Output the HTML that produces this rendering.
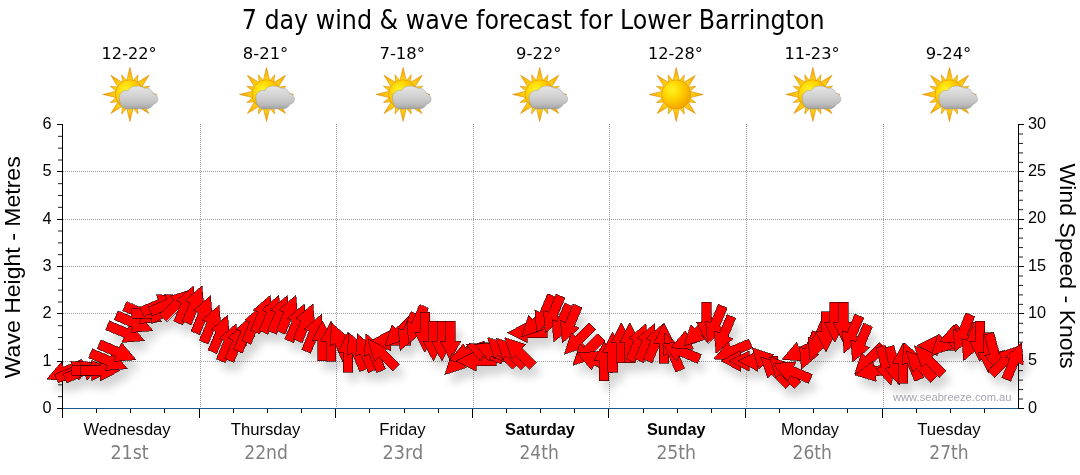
<!DOCTYPE html>
<html><head><meta charset="utf-8"><title>7 day wind &amp; wave forecast for Lower Barrington</title>
<style>
html,body{margin:0;padding:0;background:#fff;}
body{width:1080px;height:475px;overflow:hidden;}
svg{display:block;}
.tah{font-family:"DejaVu Sans Condensed","DejaVu Sans",sans-serif;font-stretch:condensed;}
.ari{font-family:"Liberation Sans",sans-serif;}
</style></head><body>
<svg width="1080" height="475" viewBox="0 0 1080 475">
<defs>
<radialGradient id="sunG" cx="0.36" cy="0.34" r="0.75">
<stop offset="0" stop-color="#fff325"/><stop offset="0.4" stop-color="#ffd500"/><stop offset="1" stop-color="#f39a00"/>
</radialGradient>
<radialGradient id="rayG" gradientUnits="userSpaceOnUse" cx="0" cy="0" r="27">
<stop offset="0.5" stop-color="#ffd81e"/><stop offset="0.8" stop-color="#fbb40a"/><stop offset="1" stop-color="#f29600"/>
</radialGradient>
<linearGradient id="cloudG" x1="0" y1="0" x2="0" y2="1">
<stop offset="0" stop-color="#e6e6e6"/><stop offset="0.5" stop-color="#cfcfcf"/><stop offset="0.8" stop-color="#bcbcbc"/><stop offset="1" stop-color="#a0a0a0"/>
</linearGradient>
<filter id="sh" x="-5%" y="-20%" width="110%" height="150%">
<feGaussianBlur in="SourceAlpha" stdDeviation="4.5"/>
<feOffset dx="5" dy="9" result="b"/>
<feComponentTransfer><feFuncA type="linear" slope="0.17"/></feComponentTransfer>
<feMerge><feMergeNode/><feMergeNode in="SourceGraphic"/></feMerge>
</filter>
<clipPath id="clipA"><rect x="0" y="100" width="1023.5" height="330"/></clipPath>

<g id="sun">
<path d="M3.30,-13.50 L0.00,-27.00 L-3.30,-13.50 Z M7.38,-11.55 L8.15,-19.68 L2.95,-13.39 Z M11.88,-7.21 L19.09,-19.09 L7.21,-11.88 Z M13.39,-2.95 L19.68,-8.15 L11.55,-7.38 Z M13.50,3.30 L27.00,-0.00 L13.50,-3.30 Z M11.55,7.38 L19.68,8.15 L13.39,2.95 Z M7.21,11.88 L19.09,19.09 L11.88,7.21 Z M2.95,13.39 L8.15,19.68 L7.38,11.55 Z M-3.30,13.50 L0.00,27.00 L3.30,13.50 Z M-7.38,11.55 L-8.15,19.68 L-2.95,13.39 Z M-11.88,7.21 L-19.09,19.09 L-7.21,11.88 Z M-13.39,2.95 L-19.68,8.15 L-11.55,7.38 Z M-13.50,-3.30 L-27.00,0.00 L-13.50,3.30 Z M-11.55,-7.38 L-19.68,-8.15 L-13.39,-2.95 Z M-7.21,-11.88 L-19.09,-19.09 L-11.88,-7.21 Z M-2.95,-13.39 L-8.15,-19.68 L-7.38,-11.55 Z" fill="url(#rayG)" stroke="#d98c00" stroke-width="0.55" stroke-linejoin="round"/>
<circle cx="0" cy="0" r="14.6" fill="url(#sunG)" stroke="#e39600" stroke-width="0.6"/>
</g>
<g id="cloud">
<path d="M-2.7,14.5 C-5,14.5 -6.5,13.8 -7.6,12.2 C-9.5,10.5 -10.6,7 -10.7,3.3 C-10.7,0.5 -9.8,-1.2 -8.0,-2.2 C-6.5,-3.8 -3.8,-4.4 -1.6,-3.9 C-0.8,-5.4 0.2,-6.4 1.1,-6.9 C2.2,-7.7 3.5,-8.1 4.8,-8.2 C7,-8.5 9,-8.4 10.9,-7.9 C12.4,-7.5 13.7,-6.9 14.7,-6.2 C16,-6.4 17.4,-6.2 18.5,-5.8 C19.8,-5.4 20.9,-4.7 21.5,-3.9 C22.3,-3.1 22.8,-2.1 23.0,-1.2 C24.6,-0.9 26,0.1 26.8,1.4 C27.6,2.4 28.0,3.6 28.0,4.8 C28.0,6 27.6,7.1 26.8,7.9 C26,8.9 24.8,9.6 23.4,9.8 C23.2,10.8 22.5,11.8 21.5,12.4 C20.5,13.5 19.2,14.2 17.7,14.4 L-2.7,14.5 Z" fill="url(#cloudG)" stroke="#8e8e8e" stroke-opacity="0.75" stroke-width="0.55"/>
</g>
</defs>
<rect x="0" y="0" width="1080" height="475" fill="#ffffff"/>

<text class="tah" x="533.15" y="29" font-size="26.5" text-anchor="middle" textLength="582.9" lengthAdjust="spacingAndGlyphs" fill="#000">7 day wind &amp; wave forecast for Lower Barrington</text>
<text class="tah" x="129.1" y="58.6" font-size="16.4" text-anchor="middle" textLength="55.0" lengthAdjust="spacingAndGlyphs" fill="#000">12-22°</text>
<use href="#sun" x="129.9" y="94.4"/><use href="#cloud" x="129.9" y="94.4"/>
<text class="tah" x="265.6" y="58.6" font-size="16.4" text-anchor="middle" textLength="45.5" lengthAdjust="spacingAndGlyphs" fill="#000">8-21°</text>
<use href="#sun" x="266.5" y="94.4"/><use href="#cloud" x="266.5" y="94.4"/>
<text class="tah" x="402.2" y="58.6" font-size="16.4" text-anchor="middle" textLength="45.5" lengthAdjust="spacingAndGlyphs" fill="#000">7-18°</text>
<use href="#sun" x="403.1" y="94.4"/><use href="#cloud" x="403.1" y="94.4"/>
<text class="tah" x="538.8" y="58.6" font-size="16.4" text-anchor="middle" textLength="45.5" lengthAdjust="spacingAndGlyphs" fill="#000">9-22°</text>
<use href="#sun" x="539.7" y="94.4"/><use href="#cloud" x="539.7" y="94.4"/>
<text class="tah" x="675.4" y="58.6" font-size="16.4" text-anchor="middle" textLength="55.0" lengthAdjust="spacingAndGlyphs" fill="#000">12-28°</text>
<use href="#sun" x="676.2" y="94.5"/>
<text class="tah" x="812.0" y="58.6" font-size="16.4" text-anchor="middle" textLength="55.0" lengthAdjust="spacingAndGlyphs" fill="#000">11-23°</text>
<use href="#sun" x="812.9" y="94.4"/><use href="#cloud" x="812.9" y="94.4"/>
<text class="tah" x="948.6" y="58.6" font-size="16.4" text-anchor="middle" textLength="45.5" lengthAdjust="spacingAndGlyphs" fill="#000">9-24°</text>
<use href="#sun" x="949.5" y="94.4"/><use href="#cloud" x="949.5" y="94.4"/>
<g stroke="#9b9b9b" stroke-width="1" stroke-dasharray="1 1" shape-rendering="crispEdges"><line x1="63" y1="361.2" x2="1018.5" y2="361.2"/><line x1="63" y1="313.8" x2="1018.5" y2="313.8"/><line x1="63" y1="266.5" x2="1018.5" y2="266.5"/><line x1="63" y1="219.2" x2="1018.5" y2="219.2"/><line x1="63" y1="171.8" x2="1018.5" y2="171.8"/><line x1="200.5" y1="124" x2="200.5" y2="408"/><line x1="336.5" y1="124" x2="336.5" y2="408"/><line x1="473.5" y1="124" x2="473.5" y2="408"/><line x1="609.5" y1="124" x2="609.5" y2="408"/><line x1="746.5" y1="124" x2="746.5" y2="408"/><line x1="883.5" y1="124" x2="883.5" y2="408"/></g>
<g shape-rendering="crispEdges"><rect x="62" y="124" width="1" height="294" fill="#000"/><rect x="1018" y="124" width="1" height="285" fill="#000"/><rect x="63" y="408" width="955" height="1" fill="#17588a"/><rect x="57" y="408.00" width="5" height="1" fill="#000"/><rect x="57" y="360.67" width="5" height="1" fill="#000"/><rect x="57" y="313.33" width="5" height="1" fill="#000"/><rect x="57" y="266.00" width="5" height="1" fill="#000"/><rect x="57" y="218.67" width="5" height="1" fill="#000"/><rect x="57" y="171.33" width="5" height="1" fill="#000"/><rect x="57" y="124.00" width="5" height="1" fill="#000"/><rect x="1019" y="408.00" width="5" height="1" fill="#000"/><rect x="1019" y="360.67" width="5" height="1" fill="#000"/><rect x="1019" y="313.33" width="5" height="1" fill="#000"/><rect x="1019" y="266.00" width="5" height="1" fill="#000"/><rect x="1019" y="218.67" width="5" height="1" fill="#000"/><rect x="1019" y="171.33" width="5" height="1" fill="#000"/><rect x="1019" y="124.00" width="5" height="1" fill="#000"/><rect x="96.00" y="409" width="1" height="4" fill="#000"/><rect x="130.00" y="409" width="1" height="4" fill="#000"/><rect x="164.00" y="409" width="1" height="4" fill="#000"/><rect x="199.00" y="409" width="1" height="9" fill="#000"/><rect x="233.00" y="409" width="1" height="4" fill="#000"/><rect x="267.00" y="409" width="1" height="4" fill="#000"/><rect x="301.00" y="409" width="1" height="4" fill="#000"/><rect x="335.00" y="409" width="1" height="9" fill="#000"/><rect x="369.00" y="409" width="1" height="4" fill="#000"/><rect x="404.00" y="409" width="1" height="4" fill="#000"/><rect x="438.00" y="409" width="1" height="4" fill="#000"/><rect x="472.00" y="409" width="1" height="9" fill="#000"/><rect x="506.00" y="409" width="1" height="4" fill="#000"/><rect x="540.00" y="409" width="1" height="4" fill="#000"/><rect x="574.00" y="409" width="1" height="4" fill="#000"/><rect x="608.00" y="409" width="1" height="9" fill="#000"/><rect x="643.00" y="409" width="1" height="4" fill="#000"/><rect x="677.00" y="409" width="1" height="4" fill="#000"/><rect x="711.00" y="409" width="1" height="4" fill="#000"/><rect x="745.00" y="409" width="1" height="9" fill="#000"/><rect x="779.00" y="409" width="1" height="4" fill="#000"/><rect x="813.00" y="409" width="1" height="4" fill="#000"/><rect x="847.00" y="409" width="1" height="4" fill="#000"/><rect x="882.00" y="409" width="1" height="9" fill="#000"/><rect x="916.00" y="409" width="1" height="4" fill="#000"/><rect x="950.00" y="409" width="1" height="4" fill="#000"/><rect x="984.00" y="409" width="1" height="4" fill="#000"/></g>
<g stroke="#222" stroke-width="1"><line x1="58" y1="396.67" x2="62" y2="396.67"/><line x1="58" y1="384.83" x2="62" y2="384.83"/><line x1="58" y1="373.00" x2="62" y2="373.00"/><line x1="58" y1="349.33" x2="62" y2="349.33"/><line x1="58" y1="337.50" x2="62" y2="337.50"/><line x1="58" y1="325.67" x2="62" y2="325.67"/><line x1="58" y1="302.00" x2="62" y2="302.00"/><line x1="58" y1="290.17" x2="62" y2="290.17"/><line x1="58" y1="278.33" x2="62" y2="278.33"/><line x1="58" y1="254.67" x2="62" y2="254.67"/><line x1="58" y1="242.83" x2="62" y2="242.83"/><line x1="58" y1="231.00" x2="62" y2="231.00"/><line x1="58" y1="207.33" x2="62" y2="207.33"/><line x1="58" y1="195.50" x2="62" y2="195.50"/><line x1="58" y1="183.67" x2="62" y2="183.67"/><line x1="58" y1="160.00" x2="62" y2="160.00"/><line x1="58" y1="148.17" x2="62" y2="148.17"/><line x1="58" y1="136.33" x2="62" y2="136.33"/><line x1="1019" y1="399.03" x2="1023" y2="399.03"/><line x1="1019" y1="389.57" x2="1023" y2="389.57"/><line x1="1019" y1="380.10" x2="1023" y2="380.10"/><line x1="1019" y1="370.63" x2="1023" y2="370.63"/><line x1="1019" y1="351.70" x2="1023" y2="351.70"/><line x1="1019" y1="342.23" x2="1023" y2="342.23"/><line x1="1019" y1="332.77" x2="1023" y2="332.77"/><line x1="1019" y1="323.30" x2="1023" y2="323.30"/><line x1="1019" y1="304.37" x2="1023" y2="304.37"/><line x1="1019" y1="294.90" x2="1023" y2="294.90"/><line x1="1019" y1="285.43" x2="1023" y2="285.43"/><line x1="1019" y1="275.97" x2="1023" y2="275.97"/><line x1="1019" y1="257.03" x2="1023" y2="257.03"/><line x1="1019" y1="247.57" x2="1023" y2="247.57"/><line x1="1019" y1="238.10" x2="1023" y2="238.10"/><line x1="1019" y1="228.63" x2="1023" y2="228.63"/><line x1="1019" y1="209.70" x2="1023" y2="209.70"/><line x1="1019" y1="200.23" x2="1023" y2="200.23"/><line x1="1019" y1="190.77" x2="1023" y2="190.77"/><line x1="1019" y1="181.30" x2="1023" y2="181.30"/><line x1="1019" y1="162.37" x2="1023" y2="162.37"/><line x1="1019" y1="152.90" x2="1023" y2="152.90"/><line x1="1019" y1="143.43" x2="1023" y2="143.43"/><line x1="1019" y1="133.97" x2="1023" y2="133.97"/></g>
<g filter="url(#sh)"><g clip-path="url(#clipA)" fill="#ff0000" stroke="#1c0000" stroke-width="0.6" stroke-linejoin="miter" shape-rendering="crispEdges"><polygon points="46.8,379.2 61.4,362.1 63.4,367.1 81.9,359.4 85.6,368.3 67.1,375.9 69.2,380.9"/>
<polygon points="93.3,363.1 78.7,380.2 76.6,375.2 58.2,382.9 54.5,374.0 73.0,366.4 70.9,361.4"/>
<polygon points="101.8,363.1 87.2,380.2 85.2,375.2 66.7,382.9 63.0,374.0 81.5,366.4 79.4,361.4"/>
<polygon points="111.9,370.5 91.9,380.7 91.9,375.3 71.9,375.3 71.9,365.7 91.9,365.7 91.9,360.3"/>
<polygon points="120.4,370.5 100.4,380.7 100.4,375.3 80.4,375.3 80.4,365.7 100.4,365.7 100.4,360.3"/>
<polygon points="127.4,368.7 105.1,370.4 107.1,365.4 88.6,357.8 92.3,348.9 110.8,356.6 112.9,351.6"/>
<polygon points="136.0,359.7 113.6,361.4 115.7,356.4 97.2,348.8 100.9,339.9 119.3,347.6 121.4,342.6"/>
<polygon points="144.5,340.7 122.1,342.4 124.2,337.4 105.7,329.8 109.4,320.9 127.9,328.6 129.9,323.6"/>
<polygon points="153.0,330.7 130.7,332.4 132.7,327.4 114.3,319.8 117.9,310.9 136.4,318.6 138.5,313.6"/>
<polygon points="161.6,321.7 139.2,323.4 141.3,318.4 122.8,310.8 126.5,301.9 144.9,309.6 147.0,304.6"/>
<polygon points="171.6,313.4 151.6,323.6 151.6,318.2 131.6,318.2 131.6,308.6 151.6,308.6 151.6,303.2"/>
<polygon points="178.7,296.3 164.1,313.4 162.0,308.4 143.5,316.1 139.9,307.2 158.3,299.6 156.3,294.6"/>
<polygon points="187.2,296.1 172.6,313.2 170.6,308.2 152.1,315.9 148.4,307.0 166.9,299.4 164.8,294.4"/>
<polygon points="191.4,289.5 184.5,310.8 180.7,307.0 166.5,321.1 159.7,314.3 173.9,300.2 170.0,296.4"/>
<polygon points="193.4,286.0 195.2,308.4 190.2,306.3 182.6,324.8 173.7,321.1 181.4,302.7 176.4,300.6"/>
<polygon points="202.0,286.0 203.8,308.4 198.8,306.3 191.1,324.8 182.2,321.1 189.9,302.7 184.9,300.6"/>
<polygon points="210.5,295.8 212.3,318.2 207.3,316.1 199.6,334.6 190.8,330.9 198.4,312.5 193.4,310.4"/>
<polygon points="219.1,305.3 220.8,327.7 215.8,325.6 208.2,344.1 199.3,340.4 207.0,322.0 202.0,319.9"/>
<polygon points="227.6,314.8 229.4,337.2 224.4,335.1 216.7,353.6 207.9,349.9 215.5,331.5 210.5,329.4"/>
<polygon points="236.1,323.9 237.9,346.3 232.9,344.2 225.3,362.7 216.4,359.0 224.0,340.6 219.1,338.5"/>
<polygon points="244.7,323.5 246.4,345.9 241.5,343.8 233.8,362.3 224.9,358.6 232.6,340.2 227.6,338.1"/>
<polygon points="253.2,314.5 255.0,336.9 250.0,334.8 242.3,353.3 233.5,349.6 241.1,331.2 236.1,329.1"/>
<polygon points="261.7,305.5 263.5,327.9 258.5,325.8 250.9,344.3 242.0,340.6 249.7,322.2 244.7,320.1"/>
<polygon points="270.3,295.4 272.1,317.8 267.1,315.7 259.4,334.2 250.5,330.5 258.2,312.1 253.2,310.0"/>
<polygon points="278.8,295.4 280.6,317.8 275.6,315.7 267.9,334.2 259.1,330.5 266.7,312.1 261.7,310.0"/>
<polygon points="287.4,295.4 289.1,317.8 284.1,315.7 276.5,334.2 267.6,330.5 275.3,312.1 270.3,310.0"/>
<polygon points="295.9,295.4 297.7,317.8 292.7,315.7 285.0,334.2 276.2,330.5 283.8,312.1 278.8,310.0"/>
<polygon points="304.4,303.9 306.2,326.3 301.2,324.2 293.6,342.7 284.7,339.0 292.3,320.6 287.4,318.5"/>
<polygon points="313.0,303.9 314.7,326.3 309.8,324.2 302.1,342.7 293.2,339.0 300.9,320.6 295.9,318.5"/>
<polygon points="321.5,314.4 323.3,336.8 318.3,334.7 310.6,353.2 301.8,349.5 309.4,331.1 304.4,329.0"/>
<polygon points="322.4,320.8 332.6,340.8 327.2,340.8 327.2,360.8 317.6,360.8 317.6,340.8 312.2,340.8"/>
<polygon points="330.9,321.0 341.1,341.0 335.7,341.0 335.7,361.0 326.1,361.0 326.1,341.0 320.7,341.0"/>
<polygon points="331.8,323.3 348.9,337.9 343.9,340.0 351.6,358.4 342.7,362.1 335.0,343.6 330.0,345.7"/>
<polygon points="348.0,332.0 358.2,352.0 352.8,352.0 352.8,372.0 343.2,372.0 343.2,352.0 337.8,352.0"/>
<polygon points="348.9,332.9 366.0,347.5 361.0,349.6 368.6,368.0 359.8,371.7 352.1,353.2 347.1,355.3"/>
<polygon points="357.4,333.8 374.5,348.4 369.5,350.5 377.2,368.9 368.3,372.6 360.6,354.1 355.7,356.2"/>
<polygon points="366.0,333.8 383.0,348.4 378.1,350.5 385.7,368.9 376.8,372.6 369.2,354.1 364.2,356.2"/>
<polygon points="368.0,339.5 389.4,346.4 385.6,350.2 399.7,364.3 392.9,371.1 378.8,357.0 374.9,360.8"/>
<polygon points="370.7,340.5 390.7,330.3 390.7,335.7 410.7,335.7 410.7,345.3 390.7,345.3 390.7,350.7"/>
<polygon points="385.1,346.2 392.0,324.9 395.8,328.7 410.0,314.6 416.8,321.4 402.6,335.5 406.4,339.3"/>
<polygon points="400.1,350.5 398.3,328.1 403.3,330.2 411.0,311.7 419.9,315.4 412.2,333.8 417.2,335.9"/>
<polygon points="408.7,343.5 406.9,321.1 411.9,323.2 419.5,304.7 428.4,308.4 420.7,326.8 425.7,328.9"/>
<polygon points="424.8,352.3 414.6,332.3 420.0,332.3 420.0,312.3 429.6,312.3 429.6,332.3 435.0,332.3"/>
<polygon points="433.4,361.2 423.2,341.2 428.6,341.2 428.6,321.2 438.2,321.2 438.2,341.2 443.6,341.2"/>
<polygon points="441.9,361.2 431.7,341.2 437.1,341.2 437.1,321.2 446.7,321.2 446.7,341.2 452.1,341.2"/>
<polygon points="450.5,361.2 440.3,341.2 445.7,341.2 445.7,321.2 455.3,321.2 455.3,341.2 460.7,341.2"/>
<polygon points="444.9,374.5 451.8,353.2 455.6,357.0 469.7,342.9 476.5,349.7 462.4,363.8 466.2,367.6"/>
<polygon points="449.1,360.7 463.6,343.6 465.7,348.6 484.2,340.9 487.8,349.8 469.4,357.4 471.4,362.4"/>
<polygon points="456.1,361.0 476.1,350.8 476.1,356.2 496.1,356.2 496.1,365.8 476.1,365.8 476.1,371.2"/>
<polygon points="466.1,344.3 488.5,342.6 486.4,347.6 504.9,355.2 501.2,364.1 482.8,356.4 480.7,361.4"/>
<polygon points="474.7,344.3 497.0,342.6 495.0,347.6 513.5,355.2 509.8,364.1 491.3,356.4 489.2,361.4"/>
<polygon points="487.5,337.6 508.9,344.5 505.1,348.3 519.2,362.4 512.4,369.2 498.3,355.1 494.5,358.9"/>
<polygon points="496.1,338.2 517.4,345.1 513.6,348.9 527.8,363.0 521.0,369.8 506.8,355.7 503.0,359.5"/>
<polygon points="504.6,337.6 526.0,344.5 522.2,348.3 536.3,362.4 529.5,369.2 515.4,355.1 511.5,358.9"/>
<polygon points="507.3,332.7 527.3,322.5 527.3,327.9 547.3,327.9 547.3,337.5 527.3,337.5 527.3,342.9"/>
<polygon points="521.7,336.7 528.6,315.4 532.4,319.2 546.6,305.1 553.4,311.9 539.2,326.0 543.0,329.8"/>
<polygon points="536.7,332.5 534.9,310.1 539.9,312.2 547.6,293.7 556.5,297.4 548.8,315.8 553.8,317.9"/>
<polygon points="545.3,333.0 543.5,310.6 548.5,312.7 556.1,294.2 565.0,297.9 557.3,316.3 562.3,318.4"/>
<polygon points="553.8,341.9 552.0,319.5 557.0,321.6 564.7,303.1 573.5,306.8 565.9,325.2 570.9,327.3"/>
<polygon points="562.3,342.8 560.6,320.4 565.5,322.5 573.2,304.0 582.1,307.7 574.4,326.1 579.4,328.2"/>
<polygon points="564.4,354.1 571.3,332.8 575.1,336.6 589.3,322.5 596.1,329.3 581.9,343.4 585.7,347.2"/>
<polygon points="572.9,365.3 579.8,344.0 583.7,347.8 597.8,333.7 604.6,340.5 590.5,354.6 594.3,358.4"/>
<polygon points="577.1,353.0 599.5,351.3 597.4,356.3 615.9,363.9 612.2,372.8 593.8,365.1 591.7,370.1"/>
<polygon points="604.1,340.5 614.3,360.5 608.9,360.5 608.9,380.5 599.3,380.5 599.3,360.5 593.9,360.5"/>
<polygon points="612.7,332.0 622.9,352.0 617.5,352.0 617.5,372.0 607.9,372.0 607.9,352.0 602.5,352.0"/>
<polygon points="621.2,322.7 631.4,342.7 626.0,342.7 626.0,362.7 616.4,362.7 616.4,342.7 611.0,342.7"/>
<polygon points="629.7,322.8 639.9,342.8 634.5,342.8 634.5,362.8 624.9,362.8 624.9,342.8 619.5,342.8"/>
<polygon points="645.9,323.7 647.7,346.1 642.7,344.0 635.1,362.5 626.2,358.8 633.8,340.4 628.9,338.3"/>
<polygon points="654.5,323.7 656.2,346.1 651.3,344.0 643.6,362.5 634.7,358.8 642.4,340.4 637.4,338.3"/>
<polygon points="663.0,324.0 664.8,346.4 659.8,344.3 652.1,362.8 643.3,359.1 650.9,340.7 645.9,338.6"/>
<polygon points="663.9,323.1 674.1,343.1 668.7,343.1 668.7,363.1 659.1,363.1 659.1,343.1 653.7,343.1"/>
<polygon points="664.8,333.3 681.9,347.9 676.9,350.0 684.5,368.4 675.7,372.1 668.0,353.6 663.0,355.7"/>
<polygon points="662.5,343.5 684.9,341.8 682.8,346.8 701.3,354.4 697.6,363.3 679.1,355.6 677.1,360.6"/>
<polygon points="671.0,347.7 685.6,330.6 687.7,335.6 706.1,327.9 709.8,336.8 691.3,344.4 693.4,349.4"/>
<polygon points="683.9,346.1 690.8,324.8 694.6,328.6 708.8,314.5 715.6,321.3 701.4,335.4 705.3,339.2"/>
<polygon points="706.6,342.3 696.4,322.3 701.8,322.3 701.8,302.3 711.4,302.3 711.4,322.3 716.8,322.3"/>
<polygon points="707.5,343.1 705.7,320.7 710.7,322.8 718.3,304.3 727.2,308.0 719.6,326.4 724.5,328.5"/>
<polygon points="716.0,353.3 714.2,330.9 719.2,333.0 726.9,314.5 735.7,318.2 728.1,336.6 733.1,338.7"/>
<polygon points="713.7,358.9 728.3,341.8 730.4,346.8 748.8,339.1 752.5,348.0 734.0,355.6 736.1,360.6"/>
<polygon points="720.7,361.0 740.7,350.8 740.7,356.2 760.7,356.2 760.7,365.8 740.7,365.8 740.7,371.2"/>
<polygon points="729.3,361.0 749.3,350.8 749.3,356.2 769.3,356.2 769.3,365.8 749.3,365.8 749.3,371.2"/>
<polygon points="737.8,361.0 757.8,350.8 757.8,356.2 777.8,356.2 777.8,365.8 757.8,365.8 757.8,371.2"/>
<polygon points="752.2,347.9 773.6,354.8 769.7,358.6 783.9,372.7 777.1,379.5 762.9,365.4 759.1,369.2"/>
<polygon points="760.7,356.9 782.1,363.8 778.3,367.6 792.4,381.7 785.6,388.5 771.5,374.4 767.7,378.2"/>
<polygon points="769.3,356.9 790.6,363.8 786.8,367.6 801.0,381.7 794.2,388.5 780.0,374.4 776.2,378.2"/>
<polygon points="773.5,363.5 795.9,361.8 793.8,366.8 812.3,374.4 808.6,383.3 790.1,375.6 788.1,380.6"/>
<polygon points="782.0,359.4 796.6,342.3 798.7,347.3 817.1,339.6 820.8,348.5 802.3,356.1 804.4,361.1"/>
<polygon points="801.4,369.3 799.6,346.9 804.6,349.0 812.3,330.5 821.1,334.2 813.5,352.6 818.5,354.7"/>
<polygon points="809.9,359.7 808.1,337.3 813.1,339.4 820.8,320.9 829.7,324.6 822.0,343.0 827.0,345.1"/>
<polygon points="826.1,351.7 815.9,331.7 821.3,331.7 821.3,311.7 830.9,311.7 830.9,331.7 836.3,331.7"/>
<polygon points="834.6,342.3 824.4,322.3 829.8,322.3 829.8,302.3 839.4,302.3 839.4,322.3 844.8,322.3"/>
<polygon points="843.2,342.3 833.0,322.3 838.4,322.3 838.4,302.3 848.0,302.3 848.0,322.3 853.4,322.3"/>
<polygon points="844.1,352.9 842.3,330.5 847.3,332.6 854.9,314.1 863.8,317.8 856.2,336.2 861.1,338.3"/>
<polygon points="852.6,362.2 850.8,339.8 855.8,341.9 863.5,323.4 872.3,327.1 864.7,345.5 869.7,347.6"/>
<polygon points="854.7,374.1 861.6,352.8 865.4,356.6 879.5,342.5 886.3,349.3 872.2,363.4 876.0,367.2"/>
<polygon points="854.8,374.9 872.8,361.4 873.7,366.7 893.4,363.2 895.1,372.7 875.4,376.1 876.3,381.4"/>
<polygon points="891.0,385.3 876.0,368.6 881.2,367.2 876.1,347.9 885.3,345.4 890.5,364.8 895.7,363.4"/>
<polygon points="899.6,385.3 884.6,368.6 889.8,367.2 884.6,347.9 893.9,345.4 899.0,364.8 904.3,363.4"/>
<polygon points="902.9,343.0 913.1,363.0 907.7,363.0 907.7,383.0 898.1,383.0 898.1,363.0 892.7,363.0"/>
<polygon points="903.8,342.5 920.9,357.1 915.9,359.2 923.6,377.6 914.7,381.3 907.0,362.8 902.1,364.9"/>
<polygon points="905.9,350.9 927.2,357.8 923.4,361.6 937.6,375.7 930.8,382.5 916.6,368.4 912.8,372.2"/>
<polygon points="914.4,345.9 935.8,352.8 932.0,356.6 946.1,370.7 939.3,377.5 925.2,363.4 921.3,367.2"/>
<polygon points="917.1,345.5 937.1,335.3 937.1,340.7 957.1,340.7 957.1,350.3 937.1,350.3 937.1,355.7"/>
<polygon points="931.5,355.1 938.4,333.8 942.2,337.6 956.4,323.5 963.2,330.3 949.0,344.4 952.8,348.2"/>
<polygon points="939.2,341.7 953.8,324.6 955.8,329.6 974.3,321.9 978.0,330.8 959.5,338.4 961.6,343.4"/>
<polygon points="955.1,351.7 953.3,329.3 958.3,331.4 965.9,312.9 974.8,316.6 967.1,335.0 972.1,337.1"/>
<polygon points="963.6,360.7 961.8,338.3 966.8,340.4 974.5,321.9 983.3,325.6 975.7,344.0 980.7,346.1"/>
<polygon points="979.8,361.2 969.6,341.2 975.0,341.2 975.0,321.2 984.6,321.2 984.6,341.2 990.0,341.2"/>
<polygon points="988.3,372.8 978.1,352.8 983.5,352.8 983.5,332.8 993.1,332.8 993.1,352.8 998.5,352.8"/>
<polygon points="999.4,372.3 984.4,355.6 989.6,354.2 984.4,334.9 993.7,332.4 998.9,351.8 1004.1,350.4"/>
<polygon points="1019.5,346.0 1012.6,367.3 1008.8,363.5 994.6,377.6 987.9,370.8 1002.0,356.7 998.2,352.9"/>
<polygon points="1021.6,342.5 1023.4,364.9 1018.4,362.8 1010.7,381.3 1001.8,377.6 1009.5,359.2 1004.5,357.1"/></g></g>
<g class="ari" font-size="16.3" fill="#000"><text x="51.6" y="412.9" text-anchor="end">0</text><text x="51.6" y="365.6" text-anchor="end">1</text><text x="51.6" y="318.2" text-anchor="end">2</text><text x="51.6" y="270.9" text-anchor="end">3</text><text x="51.6" y="223.6" text-anchor="end">4</text><text x="51.6" y="176.2" text-anchor="end">5</text><text x="51.6" y="128.9" text-anchor="end">6</text><text x="1028" y="412.7" text-anchor="start">0</text><text x="1028" y="365.4" text-anchor="start">5</text><text x="1028" y="318.0" text-anchor="start">10</text><text x="1028" y="270.7" text-anchor="start">15</text><text x="1028" y="223.4" text-anchor="start">20</text><text x="1028" y="176.0" text-anchor="start">25</text><text x="1028" y="128.7" text-anchor="start">30</text></g>
<text class="ari" font-size="22.6" fill="#000" text-anchor="middle" transform="translate(19.5,267.3) rotate(-90)" textLength="222" lengthAdjust="spacingAndGlyphs">Wave Height - Metres</text>
<text class="ari" font-size="22.6" fill="#000" text-anchor="middle" transform="translate(1059.8,266.1) rotate(90)" textLength="205" lengthAdjust="spacingAndGlyphs">Wind Speed - Knots</text>
<text class="ari" font-size="11.5" fill="#a9a4b4" x="1011.5" y="401" text-anchor="end" textLength="118.5" lengthAdjust="spacingAndGlyphs">www.seabreeze.com.au</text>
<text class="ari" font-size="17.2" x="127.0" y="435" text-anchor="middle" textLength="87.2" lengthAdjust="spacingAndGlyphs" fill="#000">Wednesday</text>
<text class="tah" font-size="18.6" x="129.6" y="459" text-anchor="middle" textLength="38.3" lengthAdjust="spacingAndGlyphs" fill="#7f7f7f">21st</text>
<text class="ari" font-size="17.2" x="265.5" y="435" text-anchor="middle" textLength="69.6" lengthAdjust="spacingAndGlyphs" fill="#000">Thursday</text>
<text class="tah" font-size="18.6" x="266.1" y="459" text-anchor="middle" textLength="43.7" lengthAdjust="spacingAndGlyphs" fill="#7f7f7f">22nd</text>
<text class="ari" font-size="17.2" x="402.5" y="435" text-anchor="middle" textLength="46.3" lengthAdjust="spacingAndGlyphs" fill="#000">Friday</text>
<text class="tah" font-size="18.6" x="402.9" y="459" text-anchor="middle" textLength="40.6" lengthAdjust="spacingAndGlyphs" fill="#7f7f7f">23rd</text>
<text class="ari" font-size="17.2" x="540.0" y="435" text-anchor="middle" textLength="69.9" lengthAdjust="spacingAndGlyphs" fill="#000" font-weight="bold">Saturday</text>
<text class="tah" font-size="18.6" x="539.1" y="459" text-anchor="middle" textLength="39.3" lengthAdjust="spacingAndGlyphs" fill="#7f7f7f">24th</text>
<text class="ari" font-size="17.2" x="676.2" y="435" text-anchor="middle" textLength="58.5" lengthAdjust="spacingAndGlyphs" fill="#000" font-weight="bold">Sunday</text>
<text class="tah" font-size="18.6" x="676.2" y="459" text-anchor="middle" textLength="39.6" lengthAdjust="spacingAndGlyphs" fill="#7f7f7f">25th</text>
<text class="ari" font-size="17.2" x="810.0" y="435" text-anchor="middle" textLength="57.9" lengthAdjust="spacingAndGlyphs" fill="#000">Monday</text>
<text class="tah" font-size="18.6" x="812.2" y="459" text-anchor="middle" textLength="39.3" lengthAdjust="spacingAndGlyphs" fill="#7f7f7f">26th</text>
<text class="ari" font-size="17.2" x="948.9" y="435" text-anchor="middle" textLength="63.5" lengthAdjust="spacingAndGlyphs" fill="#000">Tuesday</text>
<text class="tah" font-size="18.6" x="949.0" y="459" text-anchor="middle" textLength="39.3" lengthAdjust="spacingAndGlyphs" fill="#7f7f7f">27th</text>
</svg></body></html>
